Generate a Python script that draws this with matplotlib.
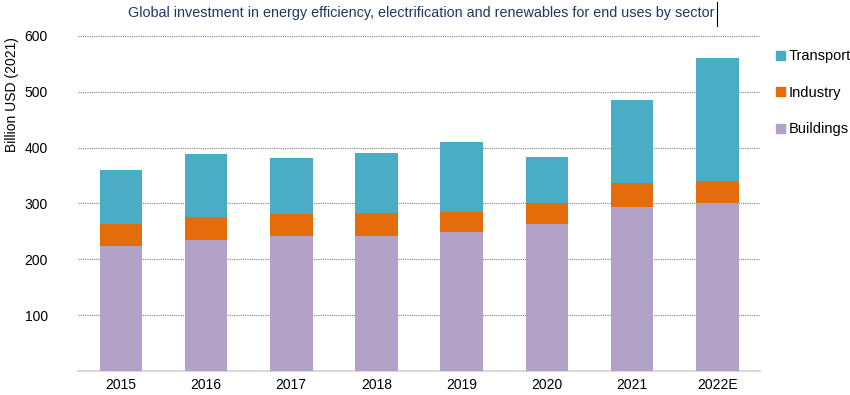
import matplotlib.pyplot as plt
import numpy as np
from matplotlib.lines import Line2D
from matplotlib.patches import Patch

plt.rcParams['font.family'] = ['Liberation Sans', 'DejaVu Sans']

# Datos
years = ['2015', '2016', '2017', '2018', '2019', '2020', '2021', '2022E']
buildings = [224, 235, 241, 242, 248, 263, 294, 300]
industry = [39, 40, 40, 41, 37, 37, 42, 40]
transport = [97, 114, 101, 107, 125, 83, 150, 221]

c_build = '#B3A2C7'
c_ind = '#E46C0A'
c_trans = '#4BACC6'

fig = plt.figure(figsize=(8.5, 3.95), dpi=100)
ax = fig.add_axes([0.092, 0.061, 0.802, 0.848])

x = np.arange(len(years))
b = np.array(buildings)
i = np.array(industry)
t = np.array(transport)
w = 0.5
ax.bar(x, b, w, color=c_build, zorder=3)
ax.bar(x, i, w, bottom=b, color=c_ind, zorder=3)
ax.bar(x, t, w, bottom=b + i, color=c_trans, zorder=3)

ax.set_xlim(-0.5, len(years) - 0.5)
ax.set_ylim(0, 600)
ax.set_yticks([100, 200, 300, 400, 500, 600])
ax.set_xticks(x)
ax.set_xticklabels(years)
ax.tick_params(axis='both', length=0, labelsize=10, colors='black')
ax.tick_params(axis='y', pad=22)
ax.tick_params(axis='x', pad=5)
ax.yaxis.grid(True, linestyle=(0, (1, 1)), color='#808080', linewidth=0.8, zorder=0)
for s in ['top', 'right', 'left']:
    ax.spines[s].set_visible(False)
ax.spines['bottom'].set_color('#D9D9D9')
ax.spines['bottom'].set_linewidth(1.5)

# Etiqueta del eje Y
fig.text(0.014, 0.76, 'Billion USD (2021)', rotation=90, ha='center', va='center', fontsize=10)

# Título
fig.text(0.496, 0.968, 'Global investment in energy efficiency, electrification and renewables for end uses by sector',
         ha='center', va='center', fontsize=10.4, color='#1F3864')
fig.add_artist(Line2D([0.843, 0.843], [0.935, 0.995], color='black', linewidth=0.8))

# Leyenda
handles = [Patch(color=c_trans, label='Transport'),
           Patch(color=c_ind, label='Industry'),
           Patch(color=c_build, label='Buildings')]
fig.legend(handles=handles, loc='upper left', bbox_to_anchor=(0.906, 0.89), frameon=False,
           fontsize=10.5, handlelength=0.6, handleheight=0.6, handletextpad=0.3,
           labelspacing=1.55, borderaxespad=0)

fig.savefig('out.png', dpi=100)
